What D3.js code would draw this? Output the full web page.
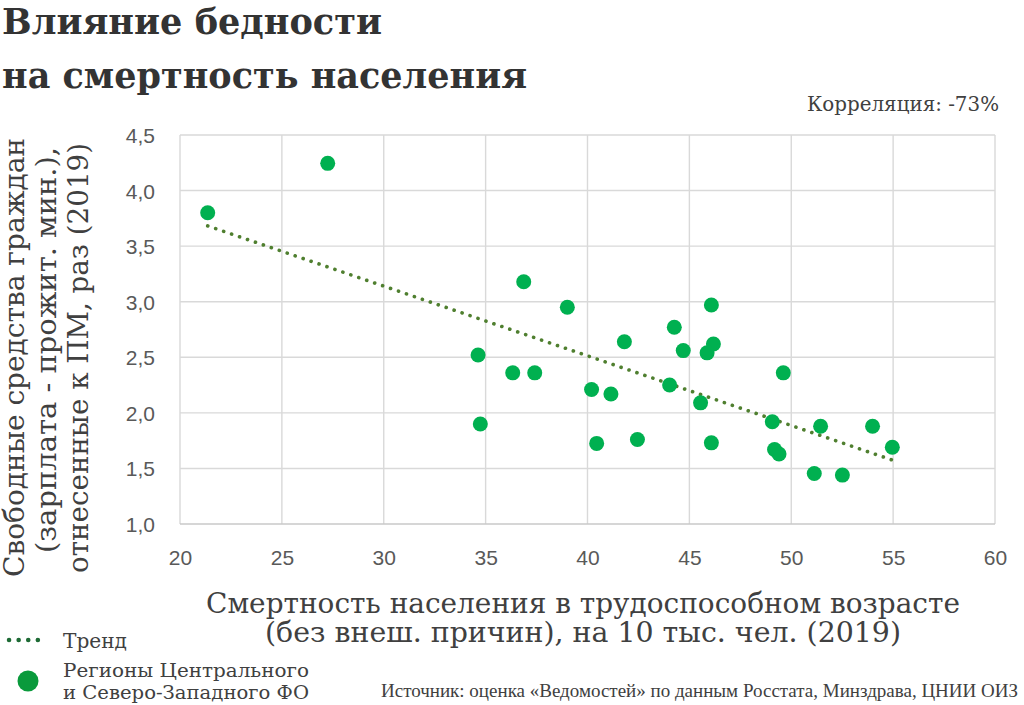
<!DOCTYPE html>
<html><head><meta charset="utf-8">
<script src="https://cdn.jsdelivr.net/npm/d3@7"></script>
<style>
html,body{margin:0;padding:0;background:#fff;}
svg{display:block;}
</style></head>
<body>
<svg id="chart" width="1024" height="705"></svg>
<script>
// Data: mortality in working age (x) vs disposable income / subsistence minimum (y)
const mortality = [21.36, 27.25, 36.87, 39.01, 34.63, 36.33, 37.41, 40.20, 34.74, 40.45,
                   41.15, 41.81, 44.26, 44.70, 46.08, 46.18, 45.87, 44.03, 45.55, 49.61,
                   42.45, 46.08, 49.07, 51.44, 53.99, 54.96, 49.18, 49.40, 51.13, 52.51];
const income    = [3.80, 4.245, 3.18, 2.95, 2.52, 2.36, 2.36, 2.21, 1.90, 1.725,
                   2.17, 2.64, 2.77, 2.56, 2.97, 2.62, 2.54, 2.25, 2.09, 2.36,
                   1.76, 1.73, 1.92, 1.88, 1.88, 1.69, 1.67, 1.63, 1.455, 1.44];
const xTicks = [20, 25, 30, 35, 40, 45, 50, 55, 60];
const yTicks = [1.0, 1.5, 2.0, 2.5, 3.0, 3.5, 4.0, 4.5];
const titleLines = ["Влияние бедности", "на смертность населения"];
const yTitleLines = ["Свободные средства граждан", "(зарплата - прожит. мин.),", "отнесенные к ПМ, раз (2019)"];
const xTitleLines = ["Смертность населения в трудоспособном возрасте", "(без внеш. причин), на 10 тыс. чел. (2019)"];
const correlationLabel = "Корреляция: -73%";
const legendTrend = "Тренд";
const legendPoints = ["Регионы Центрального", "и Северо-Западного ФО"];
const sourceText = "Источник: оценка «Ведомостей» по данным Росстата, Минздрава, ЦНИИ ОИЗ";

const svg = d3.select("#chart");
const M = {left: 180, right: 995, top: 135, bottom: 524};
const x = d3.scaleLinear().domain([20, 60]).range([M.left, M.right]);
const y = d3.scaleLinear().domain([1.0, 4.5]).range([M.bottom, M.top]);

const serif = "'DejaVu Serif', 'Liberation Serif', serif";
const narrowSerif = "'Liberation Serif', 'DejaVu Serif', serif";
const sans = "'Liberation Sans', Arial, sans-serif";

// Title
const titleY = [34, 88];
const titleLen = [380, 525];
titleLines.forEach((t, i) => {
  svg.append("text").attr("x", 2).attr("y", titleY[i])
    .attr("font-family", serif).attr("font-weight", "bold").attr("font-size", 35)
    .attr("fill", "#333333")
    .attr("textLength", titleLen[i]).attr("lengthAdjust", "spacingAndGlyphs")
    .text(t);
});

// Correlation
svg.append("text").attr("x", 807).attr("y", 111)
  .attr("font-family", serif).attr("font-size", 20).attr("fill", "#404040")
  .attr("textLength", 192).attr("lengthAdjust", "spacingAndGlyphs")
  .text(correlationLabel);

// Grid
const grid = svg.append("g");
grid.selectAll("line.v").data(xTicks).join("line")
  .attr("x1", d => x(d)).attr("x2", d => x(d))
  .attr("y1", M.top).attr("y2", M.bottom)
  .attr("stroke", "#d9d9d9").attr("stroke-width", 1.4);
grid.selectAll("line.h").data(yTicks).join("line")
  .attr("x1", M.left).attr("x2", M.right)
  .attr("y1", d => y(d)).attr("y2", d => y(d))
  .attr("stroke", d => d === 1.0 ? "#c8c8c8" : "#d9d9d9").attr("stroke-width", 1.4);

// Axes (labels only)
const xAxis = d3.axisBottom(x).tickValues(xTicks).tickSize(0).tickPadding(0).tickFormat(d3.format("d"));
const gx = svg.append("g").attr("transform", `translate(0, ${M.bottom + 41})`).call(xAxis);
gx.select(".domain").remove();
gx.selectAll("text").attr("font-family", sans).attr("font-size", 21).attr("fill", "#595959").attr("dy", 0);

const yAxis = d3.axisLeft(y).tickValues(yTicks).tickSize(0).tickPadding(0)
  .tickFormat(d => d3.format(".1f")(d).replace(".", ","));
const gy = svg.append("g").attr("transform", `translate(${M.left - 25}, 0)`).call(yAxis);
gy.select(".domain").remove();
gy.selectAll("text").attr("font-family", sans).attr("font-size", 21).attr("fill", "#595959").attr("dy", "0.36em");

// Trend (least squares)
const n = mortality.length;
const mx = d3.mean(mortality), my = d3.mean(income);
let sxy = 0, sxx = 0;
for (let i = 0; i < n; i++) { sxy += (mortality[i]-mx)*(income[i]-my); sxx += (mortality[i]-mx)**2; }
const slope = sxy / sxx, icpt = my - slope * mx;
const [x0, x1] = d3.extent(mortality);
const trendColor = "#4f7f2f";
svg.append("line")
  .attr("x1", x(x0)).attr("y1", y(icpt + slope*x0))
  .attr("x2", x(x1)).attr("y2", y(icpt + slope*x1))
  .attr("stroke", trendColor).attr("stroke-width", 3.6)
  .attr("stroke-linecap", "round").attr("stroke-dasharray", "0.1 8.3");

// Points
svg.append("g").selectAll("circle").data(d3.range(n)).join("circle")
  .attr("cx", i => x(mortality[i])).attr("cy", i => y(income[i])).attr("r", 7.5)
  .attr("fill", "#00b050");

// Y title
const yTitleX = [24, 56, 88];
const yTitleStart = [577, 553, 573];
const yTitleLen = [439, 406, 430];
yTitleLines.forEach((t, i) => {
  svg.append("text").attr("transform", `translate(${yTitleX[i]}, ${yTitleStart[i]}) rotate(-90)`)
    .attr("font-family", serif).attr("font-size", 27).attr("fill", "#404040")
    .attr("textLength", yTitleLen[i]).attr("lengthAdjust", "spacingAndGlyphs")
    .text(t);
});

// X title
const xTitleY = [613, 642];
const xTitleStart = [206, 265];
const xTitleLen = [754, 636];
xTitleLines.forEach((t, i) => {
  svg.append("text").attr("x", xTitleStart[i]).attr("y", xTitleY[i])
    .attr("font-family", serif).attr("font-size", 27).attr("fill", "#404040")
    .attr("textLength", xTitleLen[i]).attr("lengthAdjust", "spacingAndGlyphs")
    .text(t);
});

// Legend
svg.append("line").attr("x1", 9).attr("x2", 47).attr("y1", 640).attr("y2", 640)
  .attr("stroke", "#1e6b35").attr("stroke-width", 4.5)
  .attr("stroke-linecap", "round").attr("stroke-dasharray", "0.1 9.5");
svg.append("text").attr("x", 63).attr("y", 648)
  .attr("font-family", serif).attr("font-size", 20).attr("fill", "#404040")
  .attr("textLength", 64).attr("lengthAdjust", "spacingAndGlyphs").text(legendTrend);
svg.append("circle").attr("cx", 28).attr("cy", 681).attr("r", 10.5).attr("fill", "#0a9a3c");
const legY = [677, 699];
const legLen = [246, 246];
legendPoints.forEach((t, i) => {
  svg.append("text").attr("x", 63).attr("y", legY[i])
    .attr("font-family", serif).attr("font-size", 19).attr("fill", "#404040")
    .attr("textLength", legLen[i]).attr("lengthAdjust", "spacingAndGlyphs").text(t);
});

// Source
svg.append("text").attr("x", 381).attr("y", 697)
  .attr("font-family", narrowSerif).attr("font-size", 19).attr("fill", "#404040")
  .attr("textLength", 637).attr("lengthAdjust", "spacingAndGlyphs").text(sourceText);
</script>
</body></html>
